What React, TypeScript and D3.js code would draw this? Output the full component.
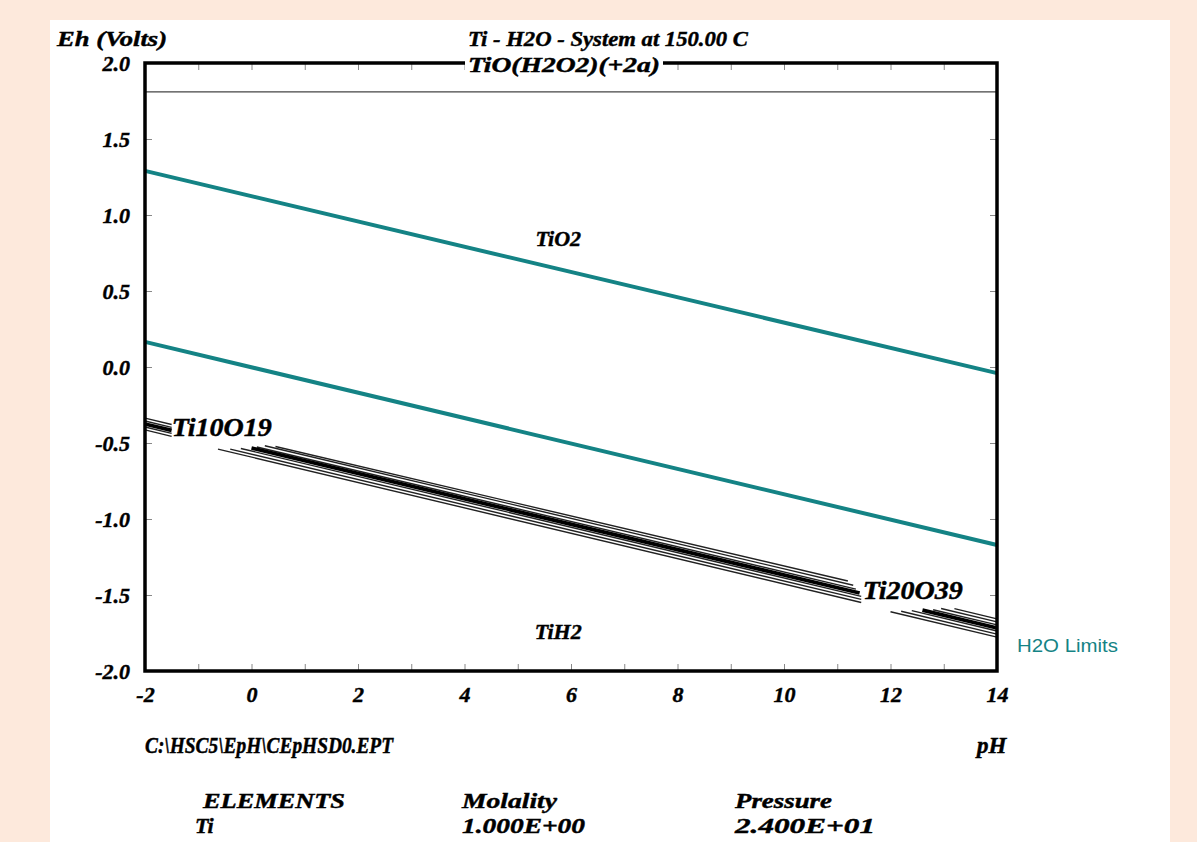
import React, { useEffect, useRef } from 'react';
import * as d3 from 'd3';

// axis ticks
const phTicks = [-2, 0, 2, 4, 6, 8, 10, 12, 14];
const ehTicks = [2.0, 1.5, 1.0, 0.5, 0.0, -0.5, -1.0, -1.5, -2.0];

// H2O stability limits, [pH, Eh]
const h2oUpper = [[-2, 1.29], [14, -0.04]];
const h2oLower = [[-2, 0.165], [14, -1.171]];

// TiO(H2O2)(+2a) / TiO2 boundary
const tioBoundary = [[-2, 1.81], [14, 1.81]];

// hatched boundaries, thin lines [pH1, Eh1, pH2, Eh2]
const band1Thin = [
  [-2, -0.336, -1.5, -0.378],
  [-2, -0.355, -1.5, -0.397],
  [-2, -0.395, -1.5, -0.437],
  [-2, -0.414, -1.5, -0.456],
];
const band1Thick = [[-2, -0.375, -1.5, -0.417]];

const band2Thin = [
  [0.45, -0.523, 11.2, -1.408],
  [0.25, -0.518, 11.3, -1.436],
  [0.1, -0.526, 11.35, -1.461],
  [-0.2, -0.536, 11.45, -1.509],
  [-0.4, -0.540, 11.45, -1.529],
  [-0.63, -0.540, 11.45, -1.549],
];
const band2Thick = [[0.0, -0.533, 11.42, -1.487]];

const band3Thin = [
  [13.2, -1.590, 14, -1.657],
  [12.95, -1.589, 14, -1.677],
  [12.8, -1.597, 14, -1.697],
  [12.4, -1.603, 14, -1.737],
  [12.2, -1.607, 14, -1.757],
  [12.0, -1.610, 14, -1.777],
];
const band3Thick = [[12.6, -1.600, 14, -1.717]];

// region labels [name, pH, Eh]
const regionLabels = [
  ['TiO2', 5.76, 0.85],
  ['TiH2', 5.76, -1.74],
];
const bandLabels = [
  ['Ti10O19', -1.5, -0.398],
  ['Ti20O39', 11.48, -1.467],
];

const TEAL = '#148385';
const SERIF = '"Liberation Serif", "Times New Roman", serif';

function App() {
  const ref = useRef<SVGSVGElement>(null);

  useEffect(() => {
    const svg = d3.select(ref.current);
    svg.selectAll('*').remove();

    const width = 1197, height = 842;
    const margin = { top: 63, right: 200, bottom: 171, left: 145 };

    const x = d3.scaleLinear().domain([-2, 14]).range([margin.left, width - margin.right]);
    const y = d3.scaleLinear().domain([-2, 2]).range([height - margin.bottom, margin.top]);

    // background
    svg.append('rect').attr('width', width).attr('height', height).attr('fill', '#fde9dc');
    svg.append('rect').attr('x', 50).attr('y', 20).attr('width', 1120).attr('height', height - 20).attr('fill', '#fff');

    const bi = (sel: any, size: number) => sel
      .attr('font-family', SERIF).attr('font-size', size)
      .attr('font-weight', 'bold').attr('font-style', 'italic')
      .attr('fill', '#000').attr('stroke', '#000').attr('stroke-width', 0.45);

    // inward minor ticks
    const tickColor = '#888';
    svg.append('g')
      .attr('transform', `translate(0,${y(-2)})`)
      .call(d3.axisBottom(x).tickValues(d3.range(-2, 15, 1)).tickSize(-7).tickFormat(() => ''))
      .call(g => g.select('.domain').remove())
      .call(g => g.selectAll('line').attr('stroke', tickColor));
    svg.append('g')
      .attr('transform', `translate(0,${y(2)})`)
      .call(d3.axisTop(x).tickValues(d3.range(-2, 15, 1)).tickSize(-7).tickFormat(() => ''))
      .call(g => g.select('.domain').remove())
      .call(g => g.selectAll('line').attr('stroke', tickColor));
    svg.append('g')
      .attr('transform', `translate(${x(-2)},0)`)
      .call(d3.axisLeft(y).tickValues(ehTicks).tickSize(-7).tickFormat(() => ''))
      .call(g => g.select('.domain').remove())
      .call(g => g.selectAll('line').attr('stroke', tickColor));
    svg.append('g')
      .attr('transform', `translate(${x(14)},0)`)
      .call(d3.axisRight(y).tickValues(ehTicks).tickSize(-7).tickFormat(() => ''))
      .call(g => g.select('.domain').remove())
      .call(g => g.selectAll('line').attr('stroke', tickColor));

    // tick labels
    svg.append('g')
      .attr('transform', `translate(${x(-2)},0)`)
      .call(d3.axisLeft(y).tickValues(ehTicks).tickSize(0).tickPadding(15).tickFormat(d => (+d).toFixed(1)))
      .call(g => g.select('.domain').remove())
      .call(g => bi(g.selectAll('text'), 22));
    svg.append('g')
      .attr('transform', `translate(0,${y(-2)})`)
      .call(d3.axisBottom(x).tickValues(phTicks).tickSize(0).tickPadding(15).tickFormat(d => String(d)))
      .call(g => g.select('.domain').remove())
      .call(g => bi(g.selectAll('text'), 22));

    const line = d3.line<number[]>().x(d => x(d[0])).y(d => y(d[1]));

    // TiO(H2O2)(+2a) boundary
    svg.append('path').datum(tioBoundary).attr('d', line)
      .attr('fill', 'none').attr('stroke', '#444').attr('stroke-width', 1.2);

    // water limits
    [h2oUpper, h2oLower].forEach(pts => {
      svg.append('path').datum(pts).attr('d', line)
        .attr('fill', 'none').attr('stroke', TEAL).attr('stroke-width', 4);
    });

    // hatched bands
    const seg = (s: number[]) => [[s[0], s[1]], [s[2], s[3]]];
    [band1Thin, band2Thin, band3Thin].forEach(band => {
      svg.append('g').selectAll('path').data(band).join('path')
        .attr('d', s => line(seg(s)))
        .attr('fill', 'none').attr('stroke', '#222').attr('stroke-width', 1.4);
    });
    [band1Thick, band2Thick, band3Thick].forEach(band => {
      svg.append('g').selectAll('path').data(band).join('path')
        .attr('d', s => line(seg(s)))
        .attr('fill', 'none').attr('stroke', '#000').attr('stroke-width', 3.8);
    });

    // frame
    svg.append('rect')
      .attr('x', x(-2)).attr('y', y(2))
      .attr('width', x(14) - x(-2)).attr('height', y(-2) - y(2))
      .attr('fill', 'none').attr('stroke', '#000').attr('stroke-width', 3.5);

    // labels inside plot
    regionLabels.forEach(([name, ph, eh]) => {
      bi(svg.append('text'), 22).attr('x', x(+ph)).attr('y', y(+eh)).attr('dy', '0.35em')
        .attr('text-anchor', 'middle').text(name);
    });
    bandLabels.forEach(([name, ph, eh]) => {
      bi(svg.append('text'), 25).attr('x', x(+ph)).attr('y', y(+eh)).attr('dy', '0.35em')
        .attr('textLength', 100).attr('lengthAdjust', 'spacingAndGlyphs')
        .text(name);
    });

    // top label with white box over the frame
    const topLab = bi(svg.append('text'), 21)
      .attr('x', 564).attr('y', 72).attr('text-anchor', 'middle')
      .attr('textLength', 192).attr('lengthAdjust', 'spacingAndGlyphs')
      .text('TiO(H2O2)(+2a)');
    const bb = (topLab.node() as SVGTextElement).getBBox();
    svg.insert('rect', () => topLab.node())
      .attr('x', bb.x - 3).attr('y', bb.y + 2).attr('width', bb.width + 6).attr('height', bb.height - 4)
      .attr('fill', '#fff');

    // titles
    bi(svg.append('text'), 22).attr('x', 468).attr('y', 46)
      .attr('textLength', 280).attr('lengthAdjust', 'spacingAndGlyphs')
      .text('Ti - H2O - System at 150.00 C');
    bi(svg.append('text'), 22).attr('x', 57).attr('y', 46)
      .attr('textLength', 110).attr('lengthAdjust', 'spacingAndGlyphs')
      .text('Eh (Volts)');
    bi(svg.append('text'), 23).attr('x', 145).attr('y', 753)
      .attr('textLength', 248).attr('lengthAdjust', 'spacingAndGlyphs')
      .text('C:\\HSC5\\EpH\\CEpHSD0.EPT');
    bi(svg.append('text'), 23).attr('x', 977).attr('y', 753).text('pH');

    // element table
    bi(svg.append('text'), 22).attr('x', 203).attr('y', 808)
      .attr('textLength', 142).attr('lengthAdjust', 'spacingAndGlyphs').text('ELEMENTS');
    bi(svg.append('text'), 22).attr('x', 462).attr('y', 808)
      .attr('textLength', 95).attr('lengthAdjust', 'spacingAndGlyphs').text('Molality');
    bi(svg.append('text'), 22).attr('x', 735).attr('y', 808)
      .attr('textLength', 97).attr('lengthAdjust', 'spacingAndGlyphs').text('Pressure');
    bi(svg.append('text'), 22).attr('x', 195).attr('y', 833).text('Ti');
    bi(svg.append('text'), 22).attr('x', 462).attr('y', 833)
      .attr('textLength', 123).attr('lengthAdjust', 'spacingAndGlyphs').text('1.000E+00');
    bi(svg.append('text'), 22).attr('x', 735).attr('y', 833)
      .attr('textLength', 140).attr('lengthAdjust', 'spacingAndGlyphs').text('2.400E+01');

    // legend
    svg.append('text').attr('x', 1017).attr('y', 652)
      .attr('font-family', '"Liberation Sans", Arial, sans-serif').attr('font-size', 18)
      .attr('fill', TEAL).attr('textLength', 101).attr('lengthAdjust', 'spacingAndGlyphs')
      .text('H2O Limits');
  }, []);

  return (
    <svg ref={ref} width={1197} height={842}
      style={{ position: 'absolute', left: 0, top: 0, display: 'block' }} />
  );
}

export default App;
